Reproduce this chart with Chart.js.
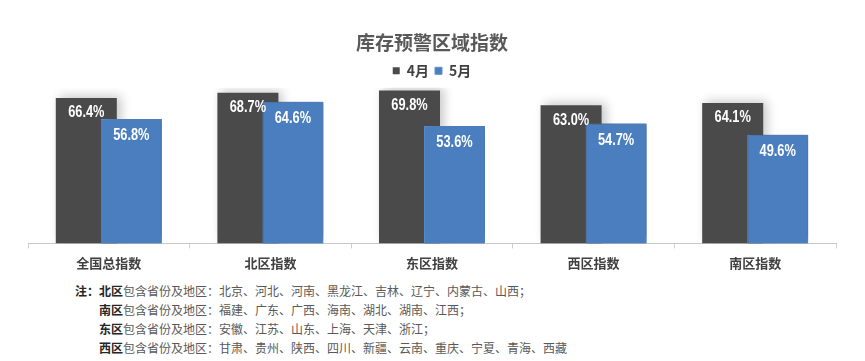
<!DOCTYPE html>
<html>
<head>
<meta charset="utf-8">
<script src="https://cdn.jsdelivr.net/npm/chart.js@4"></script>
<style>
  body { margin: 0; background: #fff; font-family: "Noto Sans CJK SC", sans-serif; }
  #wrap { position: relative; width: 865px; height: 361px; }
  #chart { position: absolute; left: 0; top: 0; }
  .notes { position: absolute; left: 75px; top: 281px; font-size: 12px; color: #595959; line-height: 19px; }
  .notes div { white-space: nowrap; }
  .notes b { color: #262626; }
  .ind { padding-left: 24px; }
</style>
</head>
<body>
<div id="wrap">
  <canvas id="chart" width="865" height="278"></canvas>
  <div class="notes">
    <div><b>注：</b><b>北区</b>包含省份及地区：北京、河北、河南、黑龙江、吉林、辽宁、内蒙古、山西；</div>
    <div class="ind"><b>南区</b>包含省份及地区：福建、广东、广西、海南、湖北、湖南、江西；</div>
    <div class="ind"><b>东区</b>包含省份及地区：安徽、江苏、山东、上海、天津、浙江；</div>
    <div class="ind"><b>西区</b>包含省份及地区：甘肃、贵州、陕西、四川、新疆、云南、重庆、宁夏、青海、西藏</div>
  </div>
</div>
<script>
var categories = ["全国总指数", "北区指数", "东区指数", "西区指数", "南区指数"];
var april = [66.4, 68.7, 69.8, 63.0, 64.1];
var may = [56.8, 64.6, 53.6, 54.7, 49.6];
var seriesNames = ["4月", "5月"];

// white value labels inside the top of each bar, condensed look
var barLabels = {
  id: "barLabels",
  afterDatasetsDraw: function (chart) {
    var ctx = chart.ctx;
    chart.data.datasets.forEach(function (ds, i) {
      chart.getDatasetMeta(i).data.forEach(function (bar, j) {
        ctx.save();
        ctx.font = "bold 16px 'Liberation Sans', sans-serif";
        ctx.fillStyle = "#ffffff";
        ctx.textAlign = "center";
        ctx.textBaseline = "middle";
        ctx.translate(bar.x, bar.y + (i === 0 ? 15 : 17));
        ctx.scale(0.8, 1);
        ctx.fillText(ds.data[j].toFixed(1) + "%", 0, 0);
        ctx.restore();
      });
    });
  }
};

// soft shadow, and put the 5月 bars on top of the overlapping 4月 bars
var barShadow = {
  id: "barShadow",
  beforeDatasetsDraw: function (chart) {
    var ctx = chart.ctx;
    ctx.save();
    ctx.shadowColor = "rgba(0,0,0,0.22)";
    ctx.shadowBlur = 10;
    ctx.shadowOffsetX = 4;
    ctx.shadowOffsetY = -2;
  },
  afterDatasetsDraw: function (chart) {
    chart.getDatasetMeta(1).controller.draw();
    chart.ctx.restore();
  }
};

var ctx = document.getElementById("chart").getContext("2d");
var myChart = new Chart(ctx, {
  type: "bar",
  data: {
    labels: categories,
    datasets: [
      {
        label: seriesNames[0],
        data: april,
        backgroundColor: "#4a4a4a",
        categoryPercentage: 0.557,
        barPercentage: 1.356
      },
      {
        label: seriesNames[1],
        data: may,
        backgroundColor: "#4a7ebf",
        borderColor: "#5b8fd3",
        borderWidth: 1,
        categoryPercentage: 0.557,
        barPercentage: 1.356
      }
    ]
  },
  options: {
    responsive: false,
    animation: false,
    layout: { padding: { left: 28, right: 29, top: 31, bottom: 0 } },
    plugins: {
      title: {
        display: true,
        text: "库存预警区域指数",
        color: "#595959",
        font: { size: 19, weight: "bold", family: "'Noto Sans CJK SC', sans-serif" },
        padding: { top: 0, bottom: 4 }
      },
      legend: {
        display: true,
        position: "top",
        labels: {
          boxWidth: 7,
          boxHeight: 7,
          padding: 6,
          color: "#404040",
          font: { size: 14, weight: "bold", family: "'Noto Sans CJK SC', sans-serif" }
        }
      },
      tooltip: { enabled: false }
    },
    scales: {
      x: {
        grid: {
          display: true,
          offset: true,
          drawOnChartArea: false,
          drawTicks: true,
          tickLength: 5,
          color: "#d0d0d0"
        },
        border: { color: "#c8c8c8", width: 1 },
        ticks: {
          color: "#404040",
          padding: 7,
          font: { size: 13, weight: "bold", family: "'Noto Sans CJK SC', sans-serif" }
        }
      },
      y: {
        display: false,
        min: 0,
        max: 71
      }
    }
  },
  plugins: [barShadow, barLabels]
});
</script>
</body>
</html>
